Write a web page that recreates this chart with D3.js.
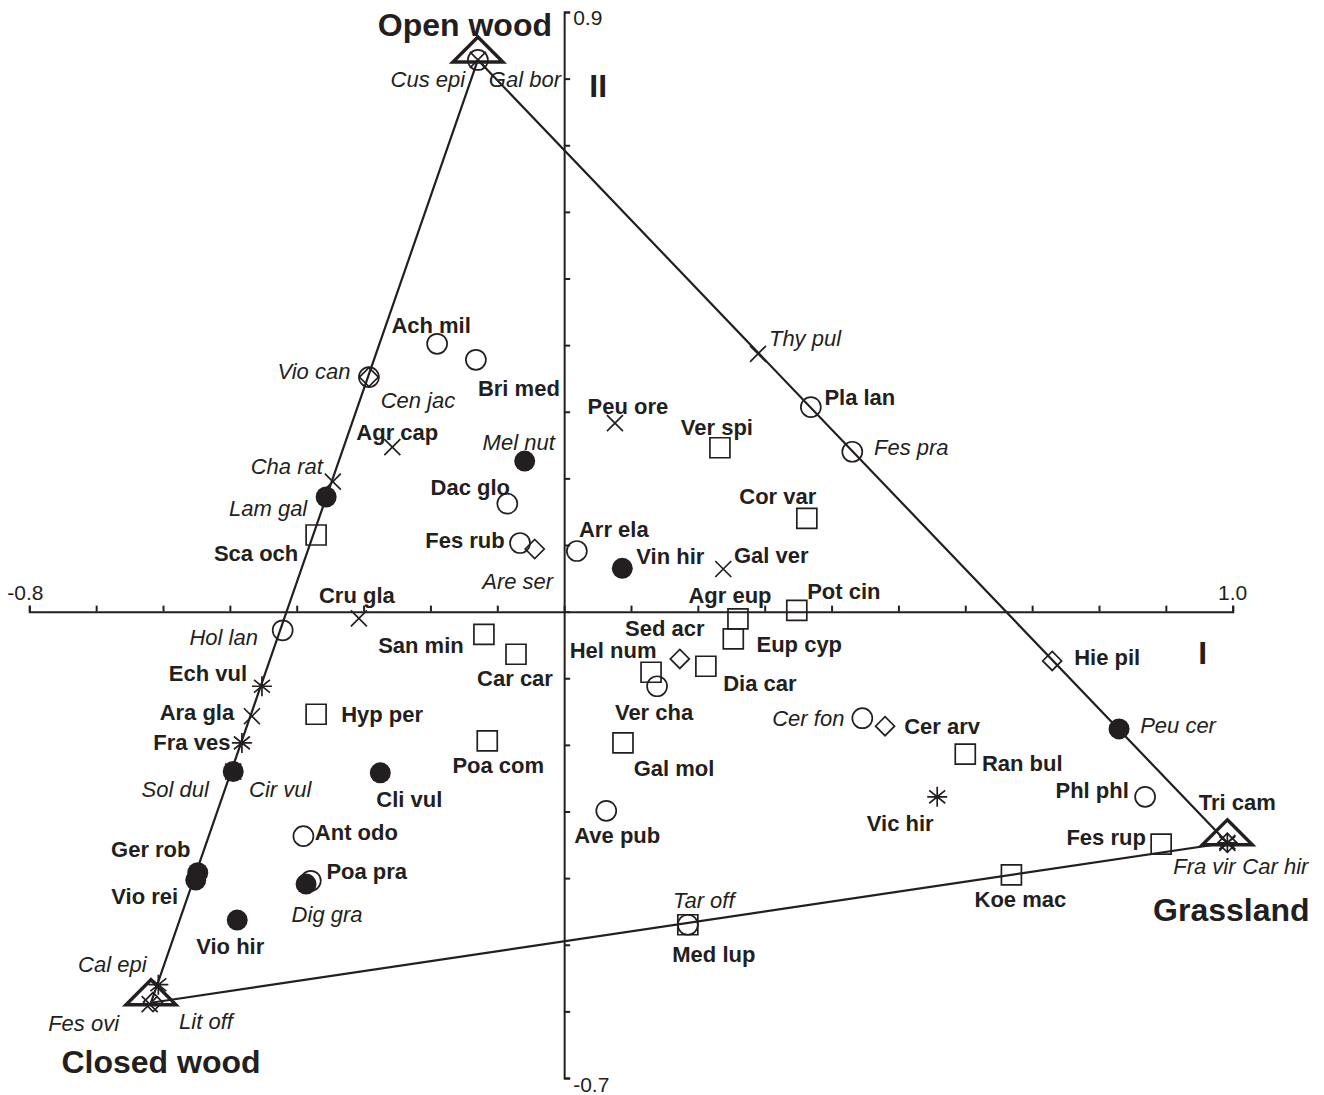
<!DOCTYPE html>
<html>
<head>
<meta charset="utf-8">
<script src="https://cdn.jsdelivr.net/npm/d3@7/dist/d3.min.js"></script>
<style>
  html, body { margin: 0; padding: 0; background: #fff; }
  svg { display: block; }
  text { font-family: "Liberation Sans", Arial, Helvetica, sans-serif; fill: #231f20; }
</style>
</head>
<body>
<svg id="chart" width="1324" height="1095"></svg>
<script>
// Ordination scores of species on axes I and II
const species = [
  "Cus epi","Gal bor","Vio can","Cen jac","Ach mil","Bri med","Agr cap","Mel nut","Cha rat","Lam gal",
  "Dac glo","Sca och","Fes rub","Are ser","Arr ela","Vin hir","Gal ver","Peu ore","Ver spi","Cor var",
  "Pla lan","Fes pra","Thy pul","Pot cin","Agr eup","Eup cyp","Sed acr","Dia car","Hel num","Ver cha",
  "Gal mol","Ave pub","Tar off","Med lup","Cer fon","Cer arv","Ran bul","Vic hir","Hie pil","Peu cer",
  "Phl phl","Fes rup","Tri cam","Fra vir","Car hir","Koe mac","Cru gla","Hol lan","San min","Car car",
  "Ech vul","Ara gla","Hyp per","Fra ves","Poa com","Sol dul","Cir vul","Cli vul","Ant odo","Poa pra",
  "Dig gra","Ger rob","Vio rei","Vio hir","Cal epi","Fes ovi","Lit off"
];
const axis1 = [
  -0.129,-0.129,-0.292,-0.292,-0.190,-0.132,-0.257,-0.059,-0.346,-0.356,
  -0.085,-0.371,-0.066,-0.044, 0.019, 0.087, 0.238, 0.076, 0.233, 0.363,
   0.369, 0.431, 0.290, 0.348, 0.260, 0.253, 0.173, 0.212, 0.130, 0.139,
   0.088, 0.063, 0.185, 0.185, 0.446, 0.480, 0.600, 0.558, 0.730, 0.830,
   0.869, 0.893, 0.992, 0.992, 0.992, 0.669,-0.307,-0.421,-0.120,-0.072,
  -0.452,-0.467,-0.371,-0.482,-0.115,-0.495,-0.495,-0.275,-0.390,-0.379,
  -0.386,-0.548,-0.551,-0.489,-0.607,-0.620,-0.615
];
const axis2 = [
   0.828, 0.828, 0.352, 0.352, 0.402, 0.378, 0.247, 0.226, 0.195, 0.172,
   0.162, 0.115, 0.103, 0.094, 0.091, 0.065, 0.064, 0.283, 0.246, 0.140,
   0.307, 0.240, 0.387, 0.002,-0.011,-0.041,-0.071,-0.082,-0.091,-0.112,
  -0.197,-0.299,-0.470,-0.470,-0.160,-0.172,-0.214,-0.278,-0.074,-0.176,
  -0.278,-0.349,-0.347,-0.347,-0.347,-0.395,-0.010,-0.028,-0.034,-0.064,
  -0.112,-0.157,-0.154,-0.197,-0.194,-0.240,-0.240,-0.242,-0.337,-0.404,
  -0.409,-0.392,-0.403,-0.463,-0.560,-0.589,-0.586
];
// Symbol group of each species
const symbolType = [
  "cross","circle","circle","diamond","circle","circle","cross","disc","cross","disc",
  "circle","square","circle","diamond","circle","disc","cross","cross","square","square",
  "circle","circle","cross","square","square","square","diamond","square","square","circle",
  "square","circle","circle","square","circle","diamond","square","star","diamond","disc",
  "circle","square","diamond","cross","star","square","cross","circle","square","square",
  "star","cross","square","star","square","disc","cross","disc","circle","circle",
  "disc","disc","disc","disc","star","cross","diamond"
];
const italicSpecies = [
  "Cus epi","Gal bor","Vio can","Cen jac","Mel nut","Cha rat","Lam gal","Are ser","Thy pul","Fes pra",
  "Tar off","Cer fon","Peu cer","Fra vir","Car hir","Hol lan","Sol dul","Cir vul","Dig gra","Cal epi",
  "Fes ovi","Lit off"
];

// Habitat centroids (triangle vertices)
const habitats = ["Open wood", "Closed wood", "Grassland"];
const habitatX = [-0.129, -0.618, 0.992];
const habitatY = [0.828, -0.587, -0.347];

// Axis extents and labelled ends
const xDomain = [-0.8, 1.0];
const yDomain = [-0.7, 0.9];
const xEndLabels = ["-0.8", "1.0"];
const yEndLabels = ["0.9", "-0.7"];

// Label offsets (px) from each mark
const labelOffset = {
  "Cus epi":[-50,20],"Gal bor":[47,20],"Vio can":[-55,-6],"Cen jac":[49,23],"Ach mil":[-6,-18],
  "Bri med":[43,29],"Agr cap":[5,-15],"Mel nut":[-6,-19],"Cha rat":[-46,-15],"Lam gal":[-58,11],
  "Dac glo":[-37,-16],"Sca och":[-60,18],"Fes rub":[-55,-3],"Are ser":[-17,33],"Arr ela":[37,-21],
  "Vin hir":[48,-12],"Gal ver":[48,-13],"Peu ore":[13,-17],"Ver spi":[-3,-20],"Cor var":[-29,-22],
  "Pla lan":[49,-10],"Fes pra":[59,-4],"Thy pul":[47,-15],"Pot cin":[47,-19],"Agr eup":[-8,-23],
  "Eup cyp":[66,6],"Sed acr":[-15,-30],"Dia car":[54,17],"Hel num":[-38,-22],"Ver cha":[-3,26],
  "Gal mol":[51,26],"Ave pub":[11,25],"Tar off":[16,-24],"Med lup":[26,30],"Cer fon":[-54,0],
  "Cer arv":[57,0],"Ran bul":[57,9],"Vic hir":[-37,27],"Hie pil":[55,-3],"Peu cer":[59,-3],
  "Phl phl":[-53,-6],"Fes rup":[-55,-7],"Tri cam":[10,-40],"Fra vir":[-23,24],"Car hir":[48,24],
  "Koe mac":[9,25],"Cru gla":[-2,-23],"Hol lan":[-59,7],"San min":[-63,11],"Car car":[-1,24],
  "Ech vul":[-54,-13],"Ara gla":[-55,-4],"Hyp per":[66,0],"Fra ves":[-50,0],"Poa com":[11,25],
  "Sol dul":[-58,18],"Cir vul":[47,18],"Cli vul":[29,27],"Ant odo":[53,-4],"Poa pra":[56,-9],
  "Dig gra":[21,30],"Ger rob":[-47,-23],"Vio rei":[-51,16],"Vio hir":[-7,26],"Cal epi":[-46,-20],
  "Fes ovi":[-66,19],"Lit off":[53,19]
};
const habitatLabelOffset = [[-13,-35],[10,59],[4,67]];

const ink = "#231f20";
const svg = d3.select("#chart");

const x = d3.scaleLinear().domain(xDomain).range([29.3, 1232.7]);
const y = d3.scaleLinear().domain(yDomain).range([1078, 12]);

const tickVals = (d) => d3.range(Math.round(d[0] * 10), Math.round(d[1] * 10) + 1).map(v => v / 10);

// Axes through the origin
const gx = svg.append("g").attr("transform", `translate(0,${y(0)})`)
  .call(d3.axisTop(x).tickValues(tickVals(xDomain)).tickFormat("").tickSizeInner(6).tickSizeOuter(6));
const gy = svg.append("g").attr("transform", `translate(${x(0)},0)`)
  .call(d3.axisRight(y).tickValues(tickVals(yDomain)).tickFormat("").tickSizeInner(6).tickSizeOuter(6));
[gx, gy].forEach(g => {
  g.select(".domain").attr("stroke", ink).attr("stroke-width", 2).attr("fill", "none");
  g.selectAll(".tick line").attr("stroke", ink).attr("stroke-width", 2);
});

const tickFont = { size: 21 };
svg.append("text").attr("x", x(xDomain[0]) - 4).attr("y", y(0) - 12)
  .attr("text-anchor", "middle").attr("font-size", tickFont.size).text(xEndLabels[0]);
svg.append("text").attr("x", x(xDomain[1])).attr("y", y(0) - 12)
  .attr("text-anchor", "middle").attr("font-size", tickFont.size).text(xEndLabels[1]);
svg.append("text").attr("x", x(0) + 9).attr("y", y(yDomain[1]) + 13)
  .attr("font-size", tickFont.size).text(yEndLabels[0]);
svg.append("text").attr("x", x(0) + 9).attr("y", y(yDomain[0]) + 14)
  .attr("font-size", tickFont.size).text(yEndLabels[1]);

// Axis names
svg.append("text").attr("x", x(0) + 34).attr("y", y(0.8) + 18)
  .attr("text-anchor", "middle").attr("font-size", 32).attr("font-weight", "bold").text("II");
svg.append("text").attr("x", x(0.955)).attr("y", y(0) + 52)
  .attr("text-anchor", "middle").attr("font-size", 32).attr("font-weight", "bold").text("I");

// Triangle joining the habitat centroids
const tri = habitats.map((h, i) => [x(habitatX[i]), y(habitatY[i])]);
svg.append("path")
  .attr("d", d3.line()(tri.concat([tri[0]])))
  .attr("fill", "none").attr("stroke", ink).attr("stroke-width", 2.2);

// Species marks
function markPath(type) {
  const p = d3.path();
  if (type === "cross") {
    const r = 8;
    p.moveTo(-r, -r); p.lineTo(r, r); p.moveTo(-r, r); p.lineTo(r, -r);
  } else if (type === "star") {
    const r = 10, d = 8;
    p.moveTo(0, -r); p.lineTo(0, r);
    p.moveTo(-d, -d * 0.8); p.lineTo(d, d * 0.8);
    p.moveTo(-d, d * 0.8); p.lineTo(d, -d * 0.8);
    p.moveTo(-r, 0); p.lineTo(r, 0);
  } else if (type === "square") {
    p.rect(-10, -10, 20, 20);
  } else if (type === "diamond") {
    const r = 9.5;
    p.moveTo(0, -r); p.lineTo(r, 0); p.lineTo(0, r); p.lineTo(-r, 0); p.closePath();
  } else {
    const r = type === "disc" ? 10.5 : 10;
    p.arc(0, 0, r, 0, 2 * Math.PI);
  }
  return p.toString();
}

const rows = species.map((s, i) => ({ name: s, a1: axis1[i], a2: axis2[i], type: symbolType[i] }));
// draw open marks after filled ones so overlapping outlines stay visible
const order = { disc: 0, circle: 1, square: 1, diamond: 2, cross: 3, star: 3 };
const sorted = rows.slice().sort((a, b) => order[a.type] - order[b.type]);

svg.append("g").selectAll("path").data(sorted).join("path")
  .attr("transform", d => `translate(${x(d.a1)},${y(d.a2)})`)
  .attr("d", d => markPath(d.type))
  .attr("fill", d => d.type === "disc" ? ink : "none")
  .attr("stroke", ink)
  .attr("stroke-width", d => d.type === "disc" ? 0 : 1.7);

// Habitat triangle symbols
svg.append("g").selectAll("path").data(tri).join("path")
  .attr("transform", d => `translate(${d[0]},${d[1]})`)
  .attr("d", "M0,-23 L25,2 L-25,2 Z")
  .attr("fill", "none").attr("stroke", ink).attr("stroke-width", 3.4).attr("stroke-linejoin", "miter");

// Species labels
svg.append("g").selectAll("text").data(rows).join("text")
  .attr("x", d => x(d.a1) + labelOffset[d.name][0])
  .attr("y", d => y(d.a2) + labelOffset[d.name][1])
  .attr("text-anchor", "middle")
  .attr("dominant-baseline", "central")
  .attr("font-size", 22)
  .attr("font-style", d => italicSpecies.includes(d.name) ? "italic" : "normal")
  .attr("font-weight", d => italicSpecies.includes(d.name) ? "normal" : "bold")
  .text(d => d.name);

// Habitat labels
svg.append("g").selectAll("text").data(habitats).join("text")
  .attr("x", (h, i) => tri[i][0] + habitatLabelOffset[i][0])
  .attr("y", (h, i) => tri[i][1] + habitatLabelOffset[i][1])
  .attr("text-anchor", "middle")
  .attr("dominant-baseline", "central")
  .attr("font-size", 32)
  .attr("font-weight", "bold")
  .text(h => h);
</script>
</body>
</html>
